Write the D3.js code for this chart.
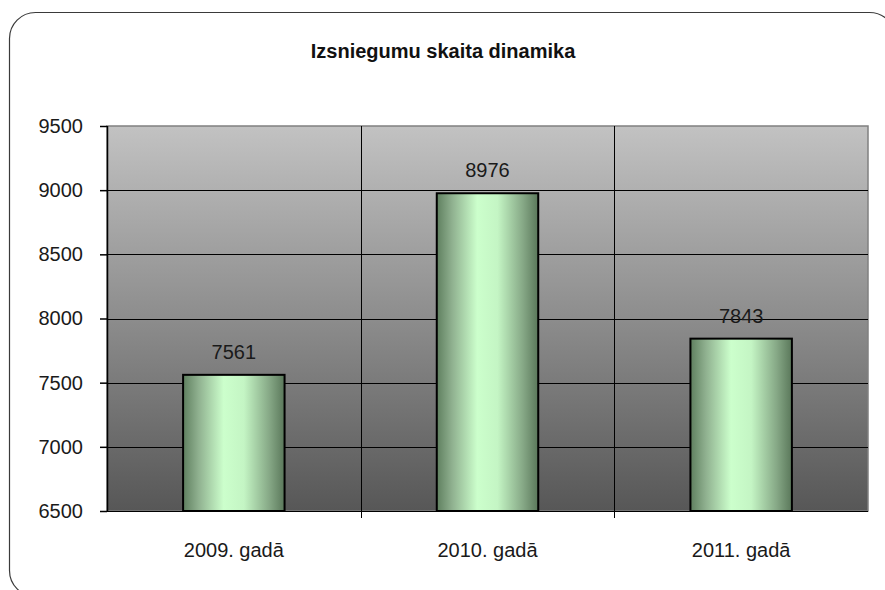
<!DOCTYPE html>
<html>
<head>
<meta charset="utf-8">
<script src="https://cdn.jsdelivr.net/npm/d3@7"></script>
<style>
  body { margin: 0; background: #fff; }
  svg { display: block; font-family: "Liberation Sans", Arial, sans-serif; }
</style>
</head>
<body>
<div id="chart"></div>
<script>
// Data ------------------------------------------------------------------------
const categories = ["2009. gadā", "2010. gadā", "2011. gadā"];
const values = [7561, 8976, 7843];
const yTicks = [6500, 7000, 7500, 8000, 8500, 9000, 9500];
const title = "Izsniegumu skaita dinamika";

// Layout ----------------------------------------------------------------------
const width = 885;
const height = 590;
const plot = { left: 107, right: 868, top: 126, bottom: 511 };

const svg = d3.select("#chart")
  .append("svg")
  .attr("width", width)
  .attr("height", height);

const defs = svg.append("defs");

// Plot background gradient (light grey top, dark grey bottom)
const bg = defs.append("linearGradient")
  .attr("id", "bg-grad")
  .attr("x1", 0).attr("x2", 0).attr("y1", 0).attr("y2", 1);
bg.append("stop").attr("offset", "0%").attr("stop-color", "#c2c2c2");
bg.append("stop").attr("offset", "100%").attr("stop-color", "#575757");

// Bar gradient (horizontal cylinder-like shading)
const barGrad = defs.append("linearGradient")
  .attr("id", "bar-grad")
  .attr("x1", 0).attr("x2", 1).attr("y1", 0).attr("y2", 0);
[
  [0, "#5f7f5f"],
  [0.15, "#8fb08f"],
  [0.4, "#ccffcc"],
  [0.6, "#c4f5c4"],
  [0.85, "#86a886"],
  [1, "#5a775a"]
].forEach(([o, c]) => {
  barGrad.append("stop").attr("offset", o * 100 + "%").attr("stop-color", c);
});

// Outer rounded frame
svg.append("rect")
  .attr("x", 9.5)
  .attr("y", 12.5)
  .attr("width", 886)
  .attr("height", 584)
  .attr("rx", 26)
  .attr("fill", "none")
  .attr("stroke", "#3a3a3a")
  .attr("stroke-width", 1.2);

// Title
svg.append("text")
  .attr("x", 443)
  .attr("y", 58)
  .attr("text-anchor", "middle")
  .attr("font-size", 20)
  .attr("font-weight", "bold")
  .attr("fill", "#111")
  .text(title);

// Scales ----------------------------------------------------------------------
const x = d3.scaleBand()
  .domain(categories)
  .range([plot.left, plot.right])
  .paddingInner(0)
  .paddingOuter(0);

const y = d3.scaleLinear()
  .domain([6500, 9500])
  .range([plot.bottom, plot.top]);

// Plot area background
svg.append("rect")
  .attr("x", plot.left)
  .attr("y", plot.top)
  .attr("width", plot.right - plot.left)
  .attr("height", plot.bottom - plot.top)
  .attr("fill", "url(#bg-grad)")
  .attr("stroke", "#808080")
  .attr("stroke-width", 1.5);

// Horizontal gridlines
svg.append("g")
  .selectAll("line")
  .data(yTicks.slice(1, -1))
  .join("line")
  .attr("x1", plot.left)
  .attr("x2", plot.right)
  .attr("y1", d => Math.round(y(d)) + 0.5)
  .attr("y2", d => Math.round(y(d)) + 0.5)
  .attr("stroke", "#000")
  .attr("stroke-width", 1);

// Vertical gridlines between categories
svg.append("g")
  .selectAll("line")
  .data(categories.slice(1))
  .join("line")
  .attr("x1", d => Math.round(x(d)) + 0.5)
  .attr("x2", d => Math.round(x(d)) + 0.5)
  .attr("y1", plot.top)
  .attr("y2", plot.bottom + 7)
  .attr("stroke", "#000")
  .attr("stroke-width", 1);

// Bars
const barW = x.bandwidth() * 0.4;
svg.append("g")
  .selectAll("rect")
  .data(values)
  .join("rect")
  .attr("x", (d, i) => x(categories[i]) + (x.bandwidth() - barW) / 2)
  .attr("y", d => y(d))
  .attr("width", barW)
  .attr("height", d => plot.bottom - y(d))
  .attr("fill", "url(#bar-grad)")
  .attr("stroke", "#000")
  .attr("stroke-width", 2);

// Value labels
svg.append("g")
  .selectAll("text")
  .data(values)
  .join("text")
  .attr("x", (d, i) => x(categories[i]) + x.bandwidth() / 2)
  .attr("y", d => y(d) - 16)
  .attr("text-anchor", "middle")
  .attr("font-size", 20)
  .attr("fill", "#1a1a1a")
  .text(d => d);

// Y axis
const yAxis = svg.append("g")
  .attr("transform", `translate(${plot.left},0)`)
  .call(d3.axisLeft(y).tickValues(yTicks).tickSize(7).tickPadding(17).tickFormat(d3.format("d")));
yAxis.select(".domain").attr("stroke", "#000").attr("stroke-width", 1.5)
  .attr("d", `M0.5,${plot.top}V${plot.bottom}`);
yAxis.selectAll(".tick line").attr("stroke", "#000").attr("stroke-width", 1.5);
yAxis.selectAll(".tick text")
  .attr("font-size", 20)
  .attr("font-family", "Liberation Sans, Arial, sans-serif")
  .attr("fill", "#1a1a1a");

// X axis baseline and category labels
svg.append("line")
  .attr("x1", plot.left - 7)
  .attr("x2", plot.right)
  .attr("y1", plot.bottom + 0.5)
  .attr("y2", plot.bottom + 0.5)
  .attr("stroke", "#000")
  .attr("stroke-width", 1.2);

svg.append("g")
  .selectAll("text")
  .data(categories)
  .join("text")
  .attr("x", d => x(d) + x.bandwidth() / 2)
  .attr("y", 557)
  .attr("text-anchor", "middle")
  .attr("font-size", 20)
  .attr("fill", "#1a1a1a")
  .text(d => d);
</script>
</body>
</html>
